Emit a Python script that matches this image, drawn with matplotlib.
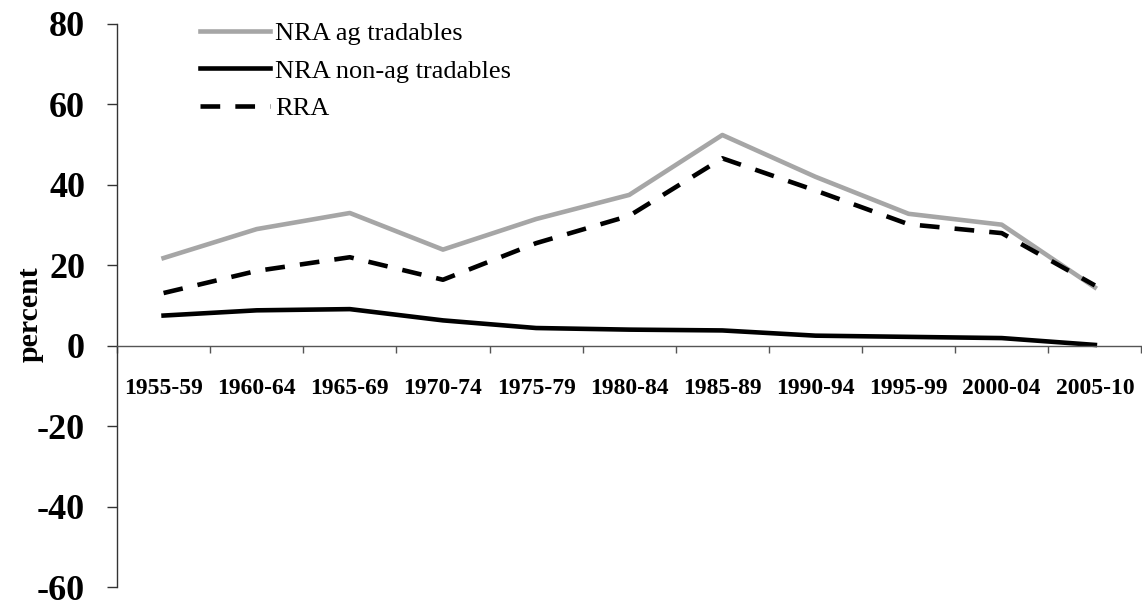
import matplotlib
matplotlib.use("Agg")
import matplotlib.pyplot as plt
import numpy as np

# data (percent)
periods = ['1955-59', '1960-64', '1965-69', '1970-74', '1975-79', '1980-84',
           '1985-89', '1990-94', '1995-99', '2000-04', '2005-10']
nra_ag = [21.8, 29.0, 33.0, 23.9, 31.5, 37.5, 52.4, 42.0, 32.8, 30.1, 14.5]
nra_nonag = [7.5, 8.8, 9.1, 6.3, 4.4, 4.0, 3.8, 2.5, 2.2, 1.9, 0.2]
rra = [13.1, 18.6, 22.0, 16.4, 25.5, 32.3, 46.6, 38.6, 30.2, 28.0, 15.0]
yticks = [-60, -40, -20, 0, 20, 40, 60, 80]

plt.rcParams['font.family'] = ['Liberation Serif', 'DejaVu Serif']

fig = plt.figure(figsize=(11.42, 6.02), dpi=100)
ax = fig.add_axes([117 / 1142, 1 - 587 / 602, 1 - 117 / 1142 - 0.0005, (587 - 24) / 602])

x = np.arange(len(periods)) + 0.5
ax.plot(x, nra_ag, color='#a6a6a6', linewidth=3.3, label='NRA ag tradables')
ax.plot(x, nra_nonag, color='black', linewidth=3.3, label='NRA non-ag tradables')
ax.plot(x, rra, color='black', linewidth=3.3, linestyle=(0, (4.3, 3.3)), label='RRA')

ax.set_xlim(0, len(periods))
ax.set_ylim(-60, 80)

# spines: left axis full height, x axis at zero
ax.spines['top'].set_visible(False)
ax.spines['right'].set_visible(False)
ax.spines['bottom'].set_position(('data', 0))
ax.spines['left'].set_linewidth(1.0)
ax.spines['bottom'].set_linewidth(1.0)
ax.spines['left'].set_color('#333333')
ax.spines['bottom'].set_color('#555555')

ax.set_yticks(yticks)
ax.set_yticklabels([str(v) for v in yticks], fontsize=26, fontweight='bold')
ax.tick_params(axis='y', direction='out', length=7, width=1, pad=16, color='#333333')

# major ticks mark category boundaries, minor ticks carry the labels
ax.set_xticks(np.arange(len(periods) + 1))
ax.set_xticklabels([])
ax.set_xticks(x, minor=True)
ax.set_xticklabels(periods, minor=True, fontsize=17, fontweight='bold')
ax.tick_params(axis='x', which='major', direction='out', length=5, width=1, color='#555555')
ax.tick_params(axis='x', which='minor', length=0, pad=23)

fig.text(30 / 1142, 1 - 314 / 602, 'percent', rotation=90, fontsize=21.5,
         fontweight='bold', ha='center', va='center')

ax.legend(loc='upper left', bbox_to_anchor=(200 / 1142, 1 - 22 / 602),
          bbox_transform=fig.transFigure, frameon=False, fontsize=19,
          handlelength=2.65, handletextpad=0.2, labelspacing=0.52,
          borderpad=0, borderaxespad=0)

fig.savefig('out.png', dpi=100)
